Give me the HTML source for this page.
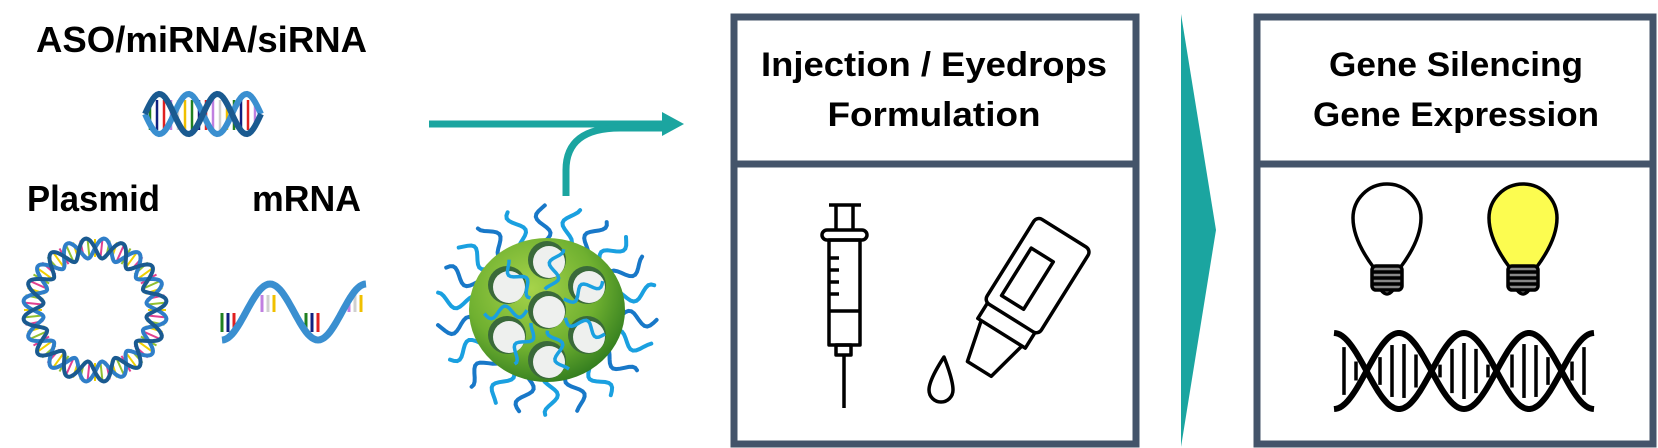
<!DOCTYPE html>
<html><head><meta charset="utf-8"><style>
html,body{margin:0;padding:0;background:#fff;}
svg{display:block;}
text{font-family:"Liberation Sans",sans-serif;font-weight:bold;fill:#000;}
</style></head><body>
<svg id="s" width="1658" height="448" viewBox="0 0 1658 448" xmlns="http://www.w3.org/2000/svg">
<defs>
<radialGradient id="g" cx="0.4" cy="0.35" r="0.7">
<stop offset="0" stop-color="#a6d34a"/><stop offset="0.6" stop-color="#6fb030"/><stop offset="1" stop-color="#2f7a1e"/>
</radialGradient>
</defs>
<text x="36" y="52" font-size="36" textLength="331" lengthAdjust="spacingAndGlyphs">ASO/miRNA/siRNA</text>
<text x="27" y="211" font-size="36" textLength="133" lengthAdjust="spacingAndGlyphs">Plasmid</text>
<text x="252" y="211" font-size="36" textLength="109" lengthAdjust="spacingAndGlyphs">mRNA</text>

<path d="M429 124 H670" stroke="#1ba5a0" stroke-width="7" fill="none"/>
<path d="M566 196 V170 Q566 128 620 128 H670" stroke="#1ba5a0" stroke-width="7" fill="none"/>
<polygon points="662,112 684,124 662,136" fill="#1ba5a0"/>

<rect x="734" y="17" width="402" height="427" fill="none" stroke="#44546a" stroke-width="7"/>
<line x1="734" y1="164" x2="1136" y2="164" stroke="#44546a" stroke-width="7"/>
<text x="934" y="76" font-size="34" text-anchor="middle" textLength="346" lengthAdjust="spacingAndGlyphs">Injection / Eyedrops</text>
<text x="934" y="126" font-size="34" text-anchor="middle" textLength="213" lengthAdjust="spacingAndGlyphs">Formulation</text>

<polygon points="1181,14 1216,230 1181,447" fill="#1ba5a0"/>

<rect x="1257" y="17" width="396" height="427" fill="none" stroke="#44546a" stroke-width="7"/>
<line x1="1257" y1="164" x2="1653" y2="164" stroke="#44546a" stroke-width="7"/>
<text x="1456" y="76" font-size="34" text-anchor="middle" textLength="254" lengthAdjust="spacingAndGlyphs">Gene Silencing</text>
<text x="1456" y="126" font-size="34" text-anchor="middle" textLength="286" lengthAdjust="spacingAndGlyphs">Gene Expression</text>

<g id="dyn"></g>

<g stroke="#000" stroke-width="3.5" fill="none" stroke-linejoin="round">
<line x1="829" y1="205" x2="861" y2="205"/>
<line x1="836" y1="205" x2="836" y2="230"/><line x1="853" y1="205" x2="853" y2="230"/>
<rect x="822" y="230" width="45" height="10" rx="5"/>
<rect x="829" y="240" width="31" height="105"/>
<line x1="829" y1="311" x2="860" y2="311"/>
<line x1="829" y1="258" x2="839" y2="258"/><line x1="829" y1="270" x2="839" y2="270"/><line x1="829" y1="282" x2="839" y2="282"/><line x1="829" y1="294" x2="839" y2="294"/>
<rect x="836" y="345" width="15" height="10"/>
<line x1="844" y1="355" x2="844" y2="408"/>
<g transform="rotate(32 1020 300)">
<rect x="990" y="220" width="64" height="100" rx="6"/>
<rect x="1002" y="250" width="26" height="56"/>
<path d="M994 320 V338 H1050 V320"/>
<path d="M998 338 L1008 380 H1036 L1046 338"/>
</g>
<path d="M944 357 Q929 380 929 390 A12 12 0 0 0 953 390 Q953 380 944 357 Z"/>
<g>
<path d="M1374 268 Q1353 240 1353 218 A34 34 0 0 1 1421 218 Q1421 240 1400 268 Z" fill="#fff"/>
<rect x="1372" y="266" width="30" height="24" rx="4" fill="#888"/>
<line x1="1372" y1="272" x2="1402" y2="272"/><line x1="1372" y1="278" x2="1402" y2="278"/><line x1="1372" y1="284" x2="1402" y2="284"/>
<path d="M1381 290 Q1387 298 1393 290"/>
</g>
<g transform="translate(136 0)">
<path d="M1374 268 Q1353 240 1353 218 A34 34 0 0 1 1421 218 Q1421 240 1400 268 Z" fill="#fcfc50"/>
<rect x="1372" y="266" width="30" height="24" rx="4" fill="#888"/>
<line x1="1372" y1="272" x2="1402" y2="272"/><line x1="1372" y1="278" x2="1402" y2="278"/><line x1="1372" y1="284" x2="1402" y2="284"/>
<path d="M1381 290 Q1387 298 1393 290"/>
</g>
</g>
</svg>
<script>
var NS="http://www.w3.org/2000/svg",D=document.getElementById("dyn");
function el(t,a){var e=document.createElementNS(NS,t);for(var k in a)e.setAttribute(k,a[k]);D.appendChild(e);return e;}
function sine(x0,x1,yc,A,P,ph){var d="";for(var x=x0;x<=x1;x+=2){var y=yc+A*Math.sin(2*Math.PI*(x-x0)/P+ph);d+=(d?"L":"M")+x.toFixed(1)+" "+y.toFixed(1);}return d;}
var cols=["#c080e0","#d0d0d0","#f0c000","#208020","#102080","#e02020"];
for(var x=150;x<258;x+=7){el("line",{x1:x,y1:100,x2:x,y2:130,stroke:cols[(x/7|0)%6],"stroke-width":2.5});}
el("path",{d:sine(145,261,114,20,58,0),stroke:"#3a8fd0","stroke-width":6,fill:"none"});
el("path",{d:sine(145,261,114,20,58,Math.PI),stroke:"#1a5a90","stroke-width":6,fill:"none"});
var cx=95,cy=310,R=62;
for(var i=0;i<60;i++){var a=i/60*2*Math.PI;el("line",{x1:cx+(R-9)*Math.cos(a),y1:cy+(R-9)*Math.sin(a),x2:cx+(R+9)*Math.cos(a),y2:cy+(R+9)*Math.sin(a),stroke:["#f0d000","#e04090","#90c030"][i%3],"stroke-width":2});}
function ring(ph,c){var d="";for(var i=0;i<=360;i++){var a=i/360*2*Math.PI,r=R+10*Math.sin(a*12+ph);d+=(d?"L":"M")+(cx+r*Math.cos(a)).toFixed(1)+" "+(cy+r*Math.sin(a)).toFixed(1);}el("path",{d:d,stroke:c,"stroke-width":4,fill:"none"});}
ring(0,"#2f7ec8");ring(Math.PI,"#1a5a90");
var mc=[["#208020",222],["#102080",228],["#e02020",234],["#c080e0",262],["#d0d0d0",268],["#f0c000",274],["#208020",306],["#102080",312],["#e02020",318],["#c080e0",349],["#d0d0d0",355],["#f0c000",361]];
mc.forEach(function(m){var up=m[1]>255&&m[1]<290||m[1]>340;el("line",{x1:m[1],y1:up?295:313,x2:m[1],y2:up?312:332,stroke:m[0],"stroke-width":3});});
el("path",{d:sine(222,366,312,28,96,Math.PI/2),stroke:"#3a8fd0","stroke-width":7,fill:"none"});
var nx=547,ny=310;
for(var i=0;i<22;i++){var a=i/22*2*Math.PI+0.1,d="";for(var t=0;t<=1;t+=0.05){var r=55+58*t,w=7*Math.sin(t*10+i);var px=nx+r*Math.cos(a)-w*Math.sin(a),py=ny+r*Math.sin(a)*0.95+w*Math.cos(a);d+=(d?"L":"M")+px.toFixed(1)+" "+py.toFixed(1);}el("path",{d:d,stroke:i%2?"#1aa0e0":"#1878c8","stroke-width":4,fill:"none","stroke-linecap":"round"});}
el("ellipse",{cx:nx,cy:ny,rx:78,ry:72,fill:"url(#g)"});
var holes=[[0,-50],[-40,-25],[40,-25],[0,0],[-40,25],[40,25],[0,50]];
holes.forEach(function(h){el("circle",{cx:nx+h[0],cy:ny+h[1],r:19,fill:"#3a6a3a"});el("circle",{cx:nx+h[0]+2,cy:ny+h[1]+2,r:16,fill:"#eef0ee"});});
for(var i=0;i<7;i++){var a=i/7*2*Math.PI+0.4,d="";for(var t=0;t<=1;t+=0.05){var r=20+45*t,w=6*Math.sin(t*10+i);d+=(d?"L":"M")+(nx+r*Math.cos(a)-w*Math.sin(a)).toFixed(1)+" "+(ny+r*Math.sin(a)+w*Math.cos(a)).toFixed(1);}el("path",{d:d,stroke:"#1aa0e0","stroke-width":3.5,fill:"none"});}
var x0=1334,x1=1594,P=130;
for(var x=1344;x<x1-4;x+=12){var a=36*Math.abs(Math.sin(2*Math.PI*(x-x0)/P+Math.PI/2));if(a>14)el("line",{x1:x,y1:371-a+8,x2:x,y2:371+a-8,stroke:"#000","stroke-width":3.5});}
el("path",{d:sine(x0,x1,371,38,P,Math.PI/2),stroke:"#000","stroke-width":6,fill:"none"});
el("path",{d:sine(x0,x1,371,38,P,-Math.PI/2),stroke:"#000","stroke-width":6,fill:"none"});
</script>
</body></html>
